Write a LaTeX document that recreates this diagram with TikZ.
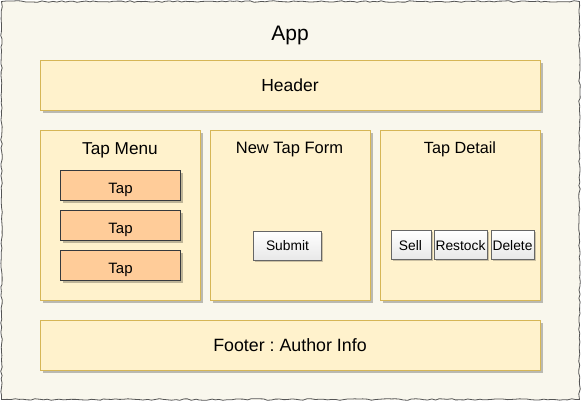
\documentclass[tikz,border=0pt]{standalone}
\usepackage{fontspec}
\setmainfont{Liberation Sans}
\frenchspacing
\usetikzlibrary{shadows,decorations.pathmorphing}
\definecolor{appbg}{HTML}{F9F7ED}
\definecolor{appline}{HTML}{555555}
\definecolor{panelfill}{HTML}{FFF2CC}
\definecolor{panelline}{HTML}{D6B656}
\definecolor{tapfill}{HTML}{FFCC99}
\definecolor{tapline}{HTML}{36393D}
\definecolor{btnline}{HTML}{666666}
\tikzset{
  panel/.style={draw=panelline, fill=panelfill, line width=0.8pt, inner sep=0pt,
    drop shadow={shadow xshift=3pt, shadow yshift=-3pt, opacity=0.25, fill=black}},
  tapbox/.style={draw=tapline, fill=tapfill, line width=0.8pt, inner sep=0pt,
    minimum width=120pt, minimum height=30pt,
    drop shadow={shadow xshift=2.5pt, shadow yshift=-2.5pt, opacity=0.25, fill=black}},
  btn/.style={draw=btnline, top color=white, bottom color=black!9, line width=0.5pt,
    inner sep=0pt, minimum height=29pt,
    drop shadow={shadow xshift=1.5pt, shadow yshift=-1.5pt, opacity=0.2, fill=black}},
  lbl/.style={inner sep=0pt, anchor=base},
  taplbl/.style={lbl, font=\fontsize{15}{18}\selectfont},
  btnlbl/.style={lbl, font=\fontsize{13.8}{16}\selectfont}
}
\begin{document}
\begin{tikzpicture}[x=1pt,y=-1pt]
\useasboundingbox (0,0) rectangle (581,401);
% outer app frame
\fill[appbg] (1,1) rectangle (580,400);
\draw[appline, line width=0.8pt, decorate, decoration={random steps, segment length=4pt, amplitude=0.8pt}]
  (1.5,1.5) -- (579.5,1.5) -- (579.5,399.5) -- (1.5,399.5) -- cycle;
\node[lbl, font=\fontsize{21}{25}\selectfont] (app) at (290,41) {App};
% header
\node[panel, minimum width=500pt, minimum height=50pt] (header) at (290,85) {};
\node[lbl, font=\fontsize{17.5}{21}\selectfont] (headerT) at (290,92) {Header};
% panels
\node[panel, minimum width=160pt, minimum height=170pt] (menu) at (120,215) {};
\node[panel, minimum width=160pt, minimum height=170pt] (form) at (290,215) {};
\node[panel, minimum width=160pt, minimum height=170pt] (detail) at (460,215) {};
\node[lbl, font=\fontsize{17.2}{21}\selectfont] (menuT) at (120,155) {Tap Menu};
\node[lbl, font=\fontsize{16.5}{20}\selectfont] (formT) at (289.5,153.3) {New Tap Form};
\node[lbl, font=\fontsize{16.2}{20}\selectfont] (detailT) at (460,153.3) {Tap Detail};
% taps
\node[tapbox] (tap1) at (120,185.5) {};
\node[tapbox] (tap2) at (120,225.5) {};
\node[tapbox] (tap3) at (120,265.5) {};
\node[taplbl] (tap1T) at (120.5,193.3) {Tap};
\node[taplbl] (tap2T) at (120.5,233.3) {Tap};
\node[taplbl] (tap3T) at (120.5,273.3) {Tap};
% buttons
\node[btn, minimum width=68pt] (submit) at (287,245.5) {};
\node[btn, minimum width=40pt] (sell) at (411,245) {};
\node[btn, minimum width=53pt] (restock) at (460.5,245) {};
\node[btn, minimum width=43pt] (delete) at (512.5,245) {};
\node[btnlbl] (submitT) at (287.5,250.3) {Submit};
\node[btnlbl] (sellT) at (410.5,250.3) {Sell};
\node[btnlbl] (restockT) at (460.5,250.3) {Restock};
\node[btnlbl] (deleteT) at (512.5,250.3) {Delete};
% footer
\node[panel, minimum width=500pt, minimum height=50pt] (footer) at (290,345) {};
\node[lbl, font=\fontsize{17.8}{21}\selectfont] (footerT) at (290,351.7) {Footer : Author Info};
\end{tikzpicture}
\end{document}
